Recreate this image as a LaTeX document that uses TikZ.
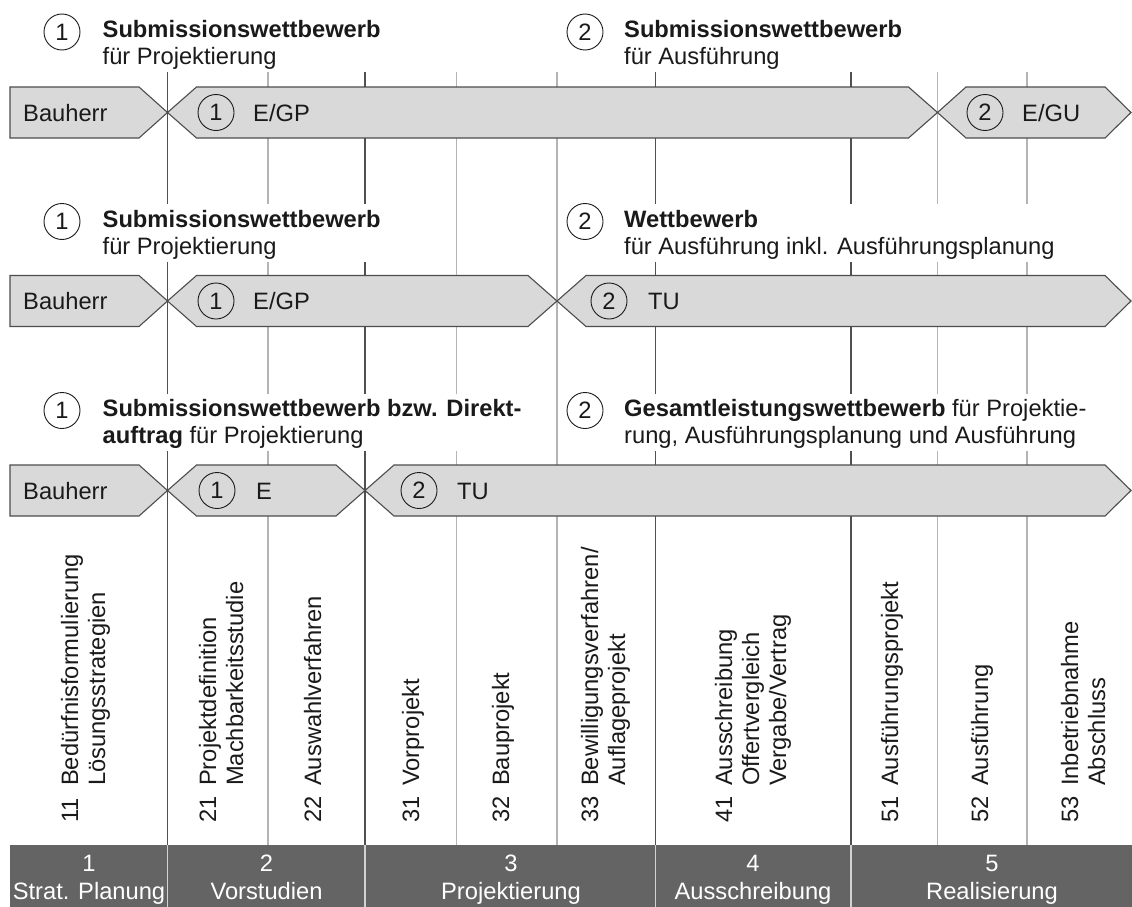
\documentclass[tikz,border=0pt]{standalone}
\usepackage{fontspec}
\setmainfont{Liberation Sans}
\definecolor{barfill}{HTML}{D9D9D9}
\definecolor{edge}{HTML}{4D4D4D}
\definecolor{lightline}{HTML}{B4B4B4}
\definecolor{darkline}{HTML}{505050}
\definecolor{phasebar}{HTML}{646464}
\definecolor{sepline}{HTML}{D2D2D2}
\definecolor{ink}{HTML}{1A1A1A}
\begin{document}
\begin{tikzpicture}[x=1pt,y=-1pt,
  font=\fontsize{23.7}{27}\selectfont,
  bar/.style={draw=edge, fill=barfill, line width=1.1pt, line join=miter},
  dline/.style={draw=darkline, line width=1.2pt},
  lline/.style={draw=lightline, line width=1.4pt},
  num/.style={circle, draw=ink, line width=0.9pt, minimum size=36pt, inner sep=0pt, text=ink},
  txt/.style={inner sep=0pt, text=ink, anchor=base west},
  vlab/.style={inner sep=0pt, text=ink, anchor=base west, rotate=90},
  phase/.style={text=white, inner sep=0pt, anchor=base},
  sep/.style={draw=sepline, line width=1.5pt}]
\useasboundingbox (0,0) rectangle (1132,907);
\fill[white] (0,0) rectangle (1132,907);

% vertical grid lines
\foreach \x in {167.5,365,655.5,851} \draw[dline] (\x,72) -- (\x,845);
\foreach \x in {268,456.5,557,937.5,1027} \draw[lline] (\x,72) -- (\x,845);

% masks behind header blocks
\fill[white] (98,204) rectangle (386,262);
\fill[white] (617,204) rectangle (1056,262);
\fill[white] (98,394) rectangle (528,451);
\fill[white] (617,394) rectangle (1106,451);

% ---------- row 1 ----------
\node[num] (h1a) at (62,32) {1};
\node[txt] (h1at) at (102.5,38) {\textbf{Submissionswettbewerb}};
\node[txt] (h1ab) at (102.5,65) {für Projektierung};
\node[num] (h1b) at (585,32) {2};
\node[txt] (h1bt) at (624,38) {\textbf{Submissionswettbewerb}};
\node[txt] (h1bb) at (624,65) {für Ausführung};

\draw[bar] (10,87) -- (139,87) -- (167.5,112.5) -- (139,138) -- (10,138) -- cycle;
\draw[bar] (167.5,112.5) -- (196.5,87) -- (908.5,87) -- (937.5,112.5) -- (908.5,138) -- (196.5,138) -- cycle;
\draw[bar] (937.5,112.5) -- (966,87) -- (1105,87) -- (1131,112.5) -- (1105,138) -- (966,138) -- cycle;
\node[txt] (b1) at (23,121) {Bauherr};
\node[num] (c1a) at (216,112.5) {1};
\node[txt] (t1a) at (253,121) {E/GP};
\node[num] (c1b) at (985,112.5) {2};
\node[txt] (t1b) at (1022,121) {E/GU};

% ---------- row 2 ----------
\node[num] (h2a) at (62,221.5) {1};
\node[txt] (h2at) at (102.5,227) {\textbf{Submissionswettbewerb}};
\node[txt] (h2ab) at (102.5,254) {für Projektierung};
\node[num] (h2b) at (585,221.5) {2};
\node[txt] (h2bt) at (624,227) {\textbf{Wettbewerb}};
\node[txt] (h2bb) at (624,254) {für Ausführung inkl. Ausführungsplanung};

\draw[bar] (10,275.5) -- (139,275.5) -- (167.5,301) -- (139,326.5) -- (10,326.5) -- cycle;
\draw[bar] (167.5,301) -- (196.5,275.5) -- (528,275.5) -- (557,301) -- (528,326.5) -- (196.5,326.5) -- cycle;
\draw[bar] (557,301) -- (586,275.5) -- (1105,275.5) -- (1131,301) -- (1105,326.5) -- (586,326.5) -- cycle;
\node[txt] (b2) at (23,309.5) {Bauherr};
\node[num] (c2a) at (216,301) {1};
\node[txt] (t2a) at (253,309.5) {E/GP};
\node[num] (c2b) at (609,301) {2};
\node[txt] (t2b) at (648,309.5) {TU};

% ---------- row 3 ----------
\node[num] (h3a) at (62,410.5) {1};
\node[txt] (h3at) at (102.5,416) {\textbf{Submissionswettbewerb bzw. Direkt-}};
\node[txt] (h3ab) at (102.5,443) {\textbf{auftrag} für Projektierung};
\node[num] (h3b) at (585,410.5) {2};
\node[txt] (h3bt) at (624,416) {\textbf{Gesamtleistungswettbewerb} für Projektie-};
\node[txt] (h3bb) at (624,443) {rung, Ausführungsplanung und Ausführung};

\draw[bar] (10,465) -- (139,465) -- (167.5,490.5) -- (139,516) -- (10,516) -- cycle;
\draw[bar] (167.5,490.5) -- (196.5,465) -- (336,465) -- (365,490.5) -- (336,516) -- (196.5,516) -- cycle;
\draw[bar] (365,490.5) -- (394,465) -- (1105,465) -- (1131,490.5) -- (1105,516) -- (394,516) -- cycle;
\node[txt] (b3) at (23,499) {Bauherr};
\node[num] (c3a) at (217,490.5) {1};
\node[txt] (t3a) at (256,499) {E};
\node[num] (c3b) at (419,490.5) {2};
\node[txt] (t3b) at (457,499) {TU};

% ---------- vertical labels ----------
\node[vlab] (n11) at (78,823) {11};
\node[vlab] (l11a) at (78,786) {Bedürfnisformulierung};
\node[vlab] (l11b) at (105,786) {Lösungsstrategien};
\node[vlab] (n21) at (216,823) {21};
\node[vlab] (l21a) at (216,786) {Projektdefinition};
\node[vlab] (l21b) at (243,786) {Machbarkeitsstudie};
\node[vlab] (n22) at (321,823) {22};
\node[vlab] (l22a) at (321,786) {Auswahlverfahren};
\node[vlab] (n31) at (419,823) {31};
\node[vlab] (l31a) at (419,786) {Vorprojekt};
\node[vlab] (n32) at (509,823) {32};
\node[vlab] (l32a) at (509,786) {Bauprojekt};
\node[vlab] (n33) at (598,823) {33};
\node[vlab] (l33a) at (598,786) {Bewilligungsverfahren/};
\node[vlab] (l33b) at (625,786) {Auflageprojekt};
\node[vlab] (n41) at (732,823) {41};
\node[vlab] (l41a) at (732,786) {Ausschreibung};
\node[vlab] (l41b) at (759,786) {Offertvergleich};
\node[vlab] (l41c) at (786,786) {Vergabe/Vertrag};
\node[vlab] (n51) at (898,823) {51};
\node[vlab] (l51a) at (898,786) {Ausführungsprojekt};
\node[vlab] (n52) at (988,823) {52};
\node[vlab] (l52a) at (988,786) {Ausführung};
\node[vlab] (n53) at (1078,823) {53};
\node[vlab] (l53a) at (1078,786) {Inbetriebnahme};
\node[vlab] (l53b) at (1105,786) {Abschluss};

% ---------- phase bar ----------
\fill[phasebar] (10,845) rectangle (1132,907);
\foreach \x in {167.5,365,655.5,851} \draw[sep] (\x,845) -- (\x,907);
\node[phase] (p1n) at (89,871) {1};
\node[phase] (p1t) at (89,899) {Strat. Planung};
\node[phase] (p2n) at (266.5,871) {2};
\node[phase] (p2t) at (266.5,899) {Vorstudien};
\node[phase] (p3n) at (511,871) {3};
\node[phase] (p3t) at (511,899) {Projektierung};
\node[phase] (p4n) at (753,871) {4};
\node[phase] (p4t) at (753,899) {Ausschreibung};
\node[phase] (p5n) at (992,871) {5};
\node[phase] (p5t) at (992,899) {Realisierung};
\end{tikzpicture}
\end{document}
